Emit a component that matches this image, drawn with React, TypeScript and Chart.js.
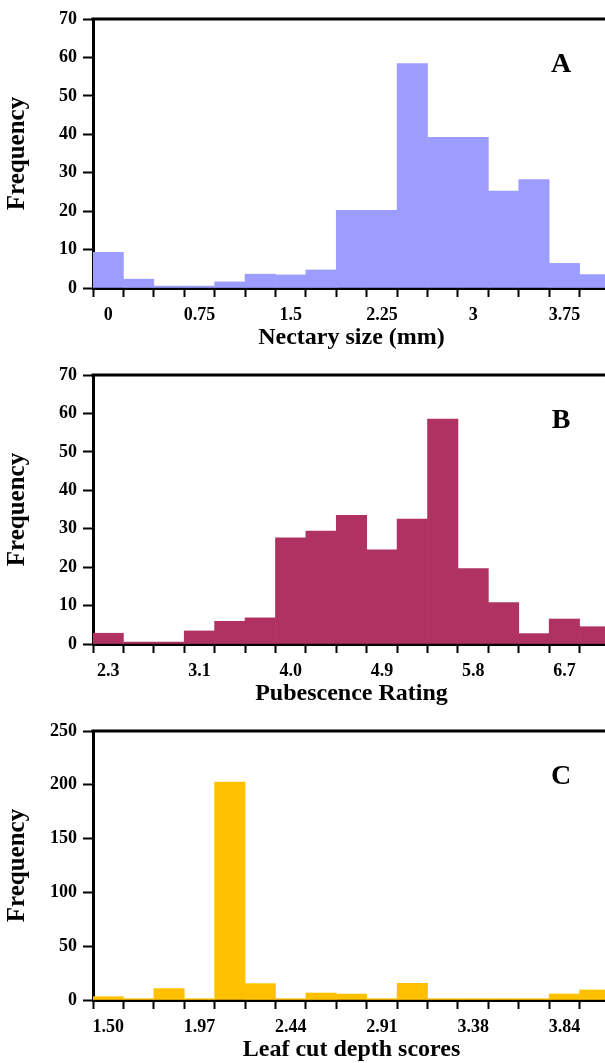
import React, { useEffect, useRef } from 'react';
import { Chart, registerables } from 'chart.js';

Chart.register(...registerables);

// ---- Data ----
const nectaryBins = ['0', '', '', '0.75', '', '', '1.5', '', '', '2.25', '', '', '3', '', '', '3.75', ''];
const nectaryFreq = [9.3, 2.3, 0.5, 0.5, 1.6, 3.6, 3.4, 4.7, 20.2, 20.2, 58.4, 39.2, 39.2, 25.2, 28.2, 6.4, 3.5];
const nectaryTicks = [0, 10, 20, 30, 40, 50, 60, 70];

const pubescenceBins = ['2.3', '', '', '3.1', '', '', '4.0', '', '', '4.9', '', '', '5.8', '', '', '6.7', ''];
const pubescenceFreq = [2.8, 0.5, 0.5, 3.4, 5.9, 6.8, 27.6, 29.4, 33.5, 24.5, 32.5, 58.5, 19.6, 10.8, 2.7, 6.5, 4.5];
const pubescenceTicks = [0, 10, 20, 30, 40, 50, 60, 70];

const leafBins = ['1.50', '', '', '1.97', '', '', '2.44', '', '', '2.91', '', '', '3.38', '', '', '3.84', ''];
const leafFreq = [3.1, 1.2, 10.6, 1.2, 202.5, 15.2, 1.2, 6.5, 5.6, 1.2, 15.5, 1.2, 1.2, 1.2, 1.2, 5.6, 9.3];
const leafTicks = [0, 50, 100, 150, 200, 250];

const FONT = "'Liberation Serif', 'Times New Roman', serif";

const framePlugin = {
  id: 'frame',
  afterDraw(chart: any) {
    const { ctx, chartArea } = chart;
    const opts = chart.options.plugins.frame || {};
    ctx.save();
    ctx.strokeStyle = '#000';
    ctx.lineWidth = 3;
    ctx.beginPath();
    ctx.moveTo(chartArea.left - 1.5, chartArea.top);
    ctx.lineTo(chartArea.right, chartArea.top);
    ctx.stroke();
    ctx.fillStyle = '#000';
    ctx.font = `bold 28px ${FONT}`;
    ctx.textAlign = 'center';
    ctx.textBaseline = 'middle';
    ctx.fillText(opts.letter || '', chartArea.left + 468, chartArea.top + 46);
    ctx.restore();
  },
};

type PanelProps = {
  top: number;
  labels: string[];
  values: number[];
  ticks: number[];
  color: string;
  xTitle: string;
  letter: string;
};

function Panel({ top, labels, values, ticks, color, xTitle, letter }: PanelProps) {
  const ref = useRef<HTMLCanvasElement | null>(null);
  useEffect(() => {
    if (!ref.current) return;
    const yMax = ticks[ticks.length - 1];
    const step = ticks[1] - ticks[0];
    const chart = new Chart(ref.current, {
      type: 'bar',
      data: {
        labels,
        datasets: [
          {
            data: values,
            backgroundColor: color,
            borderWidth: 0,
            barPercentage: 1,
            categoryPercentage: 1,
          },
        ],
      },
      plugins: [framePlugin as any],
      options: {
        responsive: false,
        animation: false,
        events: [],
        layout: { padding: { top: 19, left: 0, right: 0, bottom: 0 } },
        plugins: {
          legend: { display: false },
          tooltip: { enabled: false },
          frame: { letter },
        } as any,
        scales: {
          x: {
            type: 'category',
            offset: true,
            z: 1,
            afterFit: (scale: any) => {
              scale.height = 64;
            },
            grid: {
              display: true,
              offset: true,
              drawOnChartArea: false,
              drawTicks: true,
              tickLength: 9,
              tickWidth: 2,
              color: '#000',
            },
            border: { display: true, width: 3, color: '#000' },
            ticks: {
              autoSkip: false,
              maxRotation: 0,
              padding: 7.5,
              color: '#000',
              font: { family: FONT, size: 18, weight: 'bold' },
            },
            title: {
              display: true,
              text: xTitle,
              color: '#000',
              padding: { top: 0, bottom: 0 },
              font: { family: FONT, size: 24, weight: 'bold' },
            },
          },
          y: {
            min: 0,
            max: yMax,
            z: 1,
            afterFit: (scale: any) => {
              scale.width = 93;
            },
            grid: {
              display: true,
              drawOnChartArea: false,
              drawTicks: true,
              tickLength: 10,
              tickWidth: 2,
              color: '#000',
            },
            border: { display: true, width: 3, color: '#000' },
            ticks: {
              stepSize: step,
              padding: 6,
              color: '#000',
              font: { family: FONT, size: 18, weight: 'bold' },
            },
            title: {
              display: true,
              text: 'Frequency',
              color: '#000',
              padding: { top: 3, bottom: 0 },
              font: { family: FONT, size: 25, weight: 'bold' },
            },
          },
        },
      } as any,
    });
    return () => chart.destroy();
  }, []);
  return (
    <canvas
      ref={ref}
      width={610}
      height={352}
      style={{ position: 'absolute', left: 0, top, display: 'block' }}
    />
  );
}

export default function App() {
  return (
    <div
      style={{
        position: 'fixed',
        left: 0,
        top: 0,
        width: 605,
        height: 1063,
        overflow: 'hidden',
        background: '#fff',
      }}
    >
      <Panel
        top={0}
        labels={nectaryBins}
        values={nectaryFreq}
        ticks={nectaryTicks}
        color="#9D9DFF"
        xTitle="Nectary size (mm)"
        letter="A"
      />
      <Panel
        top={356}
        labels={pubescenceBins}
        values={pubescenceFreq}
        ticks={pubescenceTicks}
        color="#B03263"
        xTitle="Pubescence Rating"
        letter="B"
      />
      <Panel
        top={712}
        labels={leafBins}
        values={leafFreq}
        ticks={leafTicks}
        color="#FFC000"
        xTitle="Leaf cut depth scores"
        letter="C"
      />
    </div>
  );
}
